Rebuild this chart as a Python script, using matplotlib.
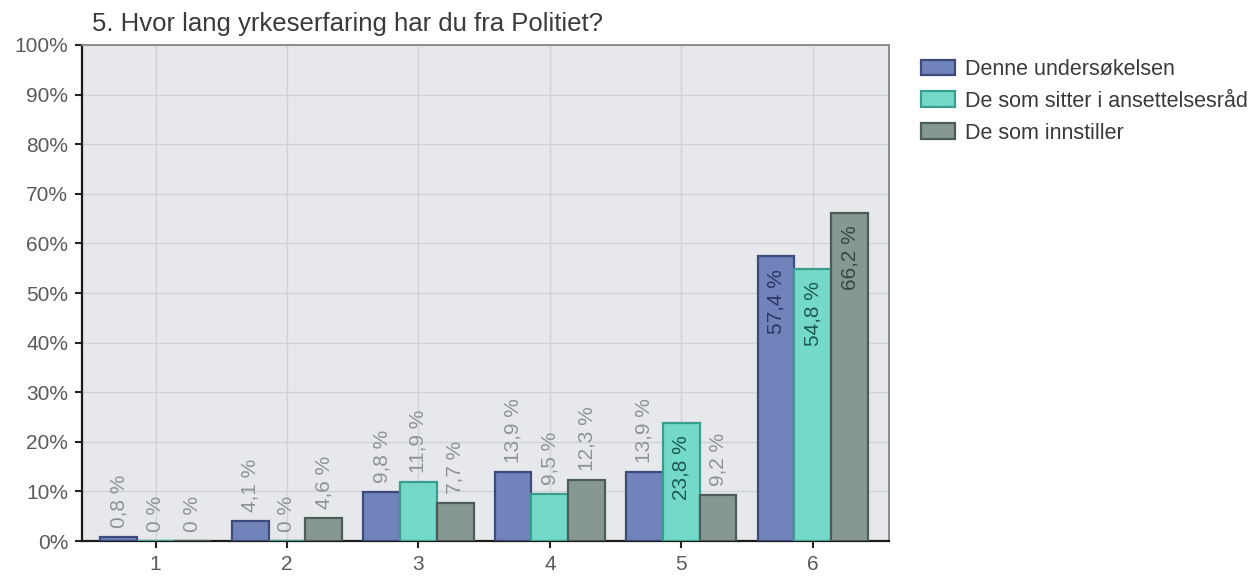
import matplotlib
matplotlib.use("Agg")
import matplotlib.pyplot as plt
import numpy as np

plt.rcParams['font.family'] = ['Liberation Sans', 'DejaVu Sans']

title = "5. Hvor lang yrkeserfaring har du fra Politiet?"
categories = ["1", "2", "3", "4", "5", "6"]
series_names = ["Denne undersøkelsen", "De som sitter i ansettelsesråd", "De som innstiller"]
denne = [0.8, 4.1, 9.8, 13.9, 13.9, 57.4]
ansettelsesrad = [0.0, 0.0, 11.9, 9.5, 23.8, 54.8]
innstiller = [0.0, 4.6, 7.7, 12.3, 9.2, 66.2]
yticks = [0, 10, 20, 30, 40, 50, 60, 70, 80, 90, 100]

face_colors = ["#7083ba", "#74d9c8", "#879892"]
edge_colors = ["#3d4a7c", "#3a9e8e", "#4c5c57"]
inner_text_colors = ["#2b3766", "#1d5a50", "#3a4743"]

fig = plt.figure(figsize=(12.57, 5.79), dpi=100)
ax = fig.add_axes([0.0652, 0.0656, 0.6420, 0.8567])
ax.set_facecolor("#e6e8eb")

x = np.arange(len(categories))
width = 0.28
all_series = [denne, ansettelsesrad, innstiller]
for i, (vals, name) in enumerate(zip(all_series, series_names)):
    pos = x + (i - 1) * width
    bars = ax.bar(pos, vals, width, color=face_colors[i], edgecolor=edge_colors[i],
                  linewidth=1.6, label=name, zorder=3)
    for b, v in zip(bars, vals):
        txt = "0 %" if v == 0 else f"{v:.1f}".replace(".", ",") + " %"
        cx = b.get_x() + b.get_width() / 2
        if v >= 20:
            ax.text(cx, v - 2.5, txt, rotation=90, ha="center", va="top",
                    fontsize=15, color=inner_text_colors[i], zorder=4)
        else:
            ax.text(cx, v + 1.8, txt, rotation=90, ha="center", va="bottom",
                    fontsize=15, color="#8e939a", zorder=4)

ax.set_xlim(-0.56, 5.58)
ax.set_ylim(0, 100)
ax.set_yticks(yticks)
ax.set_yticklabels([f"{t}%" for t in yticks], fontsize=15, color="#5a5a5a")
ax.set_xticks(x)
ax.set_xticklabels(categories, fontsize=15, color="#5a5a5a")
ax.tick_params(axis="both", length=5, width=1.5, color="#222222", pad=5)

ax.grid(True, color="#cfd2d6", linewidth=1.0, zorder=0)
ax.set_axisbelow(True)
for s in ["left", "bottom"]:
    ax.spines[s].set_color("#1a1a1a")
    ax.spines[s].set_linewidth(1.6)
for s in ["top", "right"]:
    ax.spines[s].set_color("#8c8c8c")
    ax.spines[s].set_linewidth(1.4)

fig.text(92 / 1257, 1 - 31 / 579, title, fontsize=18.5, color="#3a3a3a",
         ha="left", va="baseline")

leg = ax.legend(loc="upper left", bbox_to_anchor=(921 / 1257, 1 - 59 / 579),
                bbox_transform=fig.transFigure, frameon=False,
                fontsize=15.5, handlelength=1.6, handleheight=0.75,
                labelspacing=0.5, handletextpad=0.45, borderaxespad=0, borderpad=0)
for t in leg.get_texts():
    t.set_color("#3a3a3a")

fig.savefig("out.png", dpi=100, facecolor="white")
